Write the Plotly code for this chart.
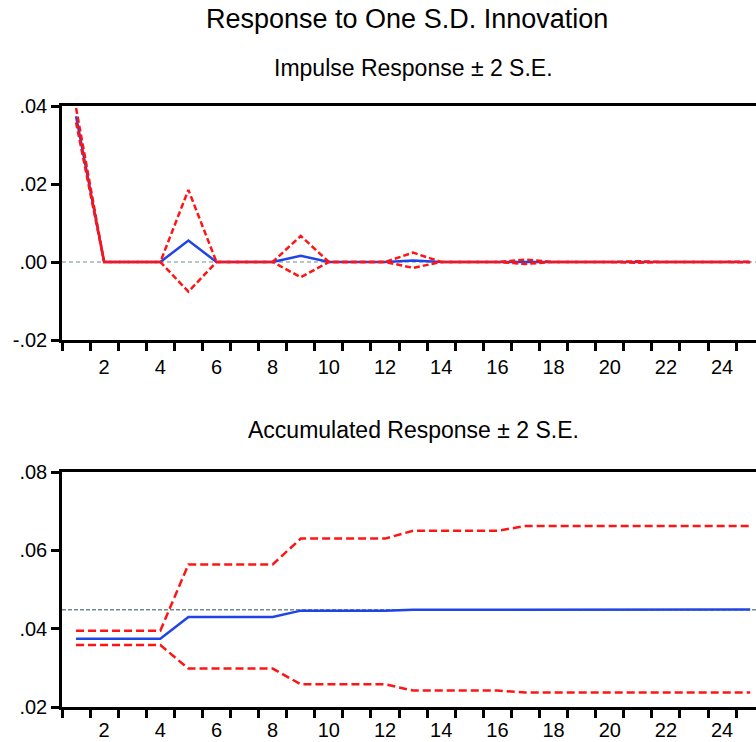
import plotly.graph_objects as go

# ---------------- data ----------------
periods = list(range(1, 26))

imp_resp = [0.0374, 0, 0, 0, 0.0055, 0, 0, 0, 0.0016, 0, 0, 0, 0.0004, 0, 0, 0,
            0.0001, 0, 0, 0, 0.00003, 0, 0, 0, 0.00001]
imp_upper = [0.0395, 0, 0, 0, 0.0185, 0, 0, 0, 0.0067, 0, 0, 0, 0.0024, 0, 0, 0,
             0.0006, 0, 0, 0, 0.0002, 0, 0, 0, 0.00005]
imp_lower = [0.0358, 0, 0, 0, -0.0076, 0, 0, 0, -0.0039, 0, 0, 0, -0.0015, 0, 0, 0,
             -0.0005, 0, 0, 0, -0.0002, 0, 0, 0, -0.00005]

acc_resp = [0.0374, 0.0374, 0.0374, 0.0374, 0.0430, 0.0430, 0.0430, 0.0430,
            0.0446, 0.0446, 0.0446, 0.0446, 0.0448, 0.0448, 0.0448, 0.0448,
            0.0449, 0.0449, 0.0449, 0.0449, 0.0449, 0.0449, 0.0449, 0.0449, 0.0449]
acc_upper = [0.0395, 0.0395, 0.0395, 0.0395, 0.0564, 0.0564, 0.0564, 0.0564,
             0.0630, 0.0630, 0.0630, 0.0630, 0.0650, 0.0650, 0.0650, 0.0650,
             0.0662, 0.0662, 0.0662, 0.0662, 0.0662, 0.0662, 0.0662, 0.0662, 0.0662]
acc_lower = [0.0358, 0.0358, 0.0358, 0.0358, 0.0298, 0.0298, 0.0298, 0.0298,
             0.0258, 0.0258, 0.0258, 0.0258, 0.0242, 0.0242, 0.0242, 0.0242,
             0.0237, 0.0237, 0.0237, 0.0237, 0.0237, 0.0237, 0.0237, 0.0237, 0.0237]

ref_top = 0.0
ref_bottom = 0.0448

x_label_vals = [2, 4, 6, 8, 10, 12, 14, 16, 18, 20, 22, 24]
x_tick_marks = [0.5 + i for i in range(25)]
top_y_vals = [0.04, 0.02, 0.0, -0.02]
top_y_text = [".04", ".02", ".00", "-.02"]
bot_y_vals = [0.08, 0.06, 0.04, 0.02]
bot_y_text = [".08", ".06", ".04", ".02"]

main_title = "Response to One S.D. Innovation"
top_title = "Impulse Response \u00b1 2 S.E."
bot_title = "Accumulated Response \u00b1 2 S.E."

# ---------------- style ----------------
W, H = 756, 742
L = 62
FONT = "Liberation Sans, Arial, sans-serif"
BLUE = "#2045e6"
RED = "#ff1414"
GREY = "#6e8c8c"

def py(p):
    return 1 - p / H

fig = go.Figure()

# top panel
fig.add_trace(go.Scatter(x=[0.5, 25.5], y=[ref_top, ref_top], mode="lines",
                         line=dict(color=GREY, width=1, dash="4px,3px"),
                         xaxis="x", yaxis="y", hoverinfo="skip"))
fig.add_trace(go.Scatter(x=periods, y=imp_resp, mode="lines",
                         line=dict(color=BLUE, width=2.5), xaxis="x", yaxis="y"))
fig.add_trace(go.Scatter(x=periods, y=imp_upper, mode="lines",
                         line=dict(color=RED, width=2.5, dash="6px,3px"), xaxis="x", yaxis="y"))
fig.add_trace(go.Scatter(x=periods, y=imp_lower, mode="lines",
                         line=dict(color=RED, width=2.5, dash="6px,3px"), xaxis="x", yaxis="y"))

# bottom panel
fig.add_trace(go.Scatter(x=[0.5, 25.5], y=[ref_bottom, ref_bottom], mode="lines",
                         line=dict(color=GREY, width=1.5, dash="4px,2px"),
                         xaxis="x2", yaxis="y2", hoverinfo="skip"))
fig.add_trace(go.Scatter(x=periods, y=acc_resp, mode="lines",
                         line=dict(color=BLUE, width=2.5), xaxis="x2", yaxis="y2"))
fig.add_trace(go.Scatter(x=periods, y=acc_upper, mode="lines",
                         line=dict(color=RED, width=2.5, dash="8px,4px"), xaxis="x2", yaxis="y2"))
fig.add_trace(go.Scatter(x=periods, y=acc_lower, mode="lines",
                         line=dict(color=RED, width=2.5, dash="8px,4px"), xaxis="x2", yaxis="y2"))

xr = [0.5, 0.5 + (W - L) / 28.09]

def xaxis(anchor, lab_len):
    return dict(range=xr, domain=[0, 1], anchor=anchor, showgrid=False, zeroline=False,
                showline=True, linecolor="black", linewidth=2.5, mirror=True,
                tickmode="array", tickvals=x_label_vals, ticks="outside", ticklen=lab_len,
                tickcolor="rgba(0,0,0,0)", tickfont=dict(family=FONT, size=20, color="black"),
                minor=dict(tickmode="array", tickvals=x_tick_marks, ticks="outside",
                           ticklen=8, tickwidth=2.5, tickcolor="black", showgrid=False),
                automargin=False, fixedrange=True)

def yaxis(anchor, dom, rng, vals, text):
    return dict(range=rng, domain=dom, anchor=anchor, showgrid=False, zeroline=False,
                showline=True, linecolor="black", linewidth=2.5, mirror=False,
                tickmode="array", tickvals=vals, ticktext=text, ticks="outside",
                ticklen=8, tickwidth=2.5, tickcolor="black",
                tickfont=dict(family=FONT, size=20, color="black"),
                automargin=False, fixedrange=True)

fig.update_layout(
    width=W, height=H,
    margin=dict(l=L, r=0, t=0, b=0),
    paper_bgcolor="white", plot_bgcolor="white",
    showlegend=False,
    xaxis=xaxis("y", 7),
    yaxis=yaxis("x", [py(340), py(106)], [-0.02, 0.04], top_y_vals, top_y_text),
    xaxis2=xaxis("y2", 3),
    yaxis2=yaxis("x2", [py(707), py(472)], [0.02, 0.08], bot_y_vals, bot_y_text),
)

cx = (413 - L) / (W - L)
fig.add_annotation(text=main_title, xref="paper", yref="paper", x=(407 - L) / (W - L), y=py(19),
                   showarrow=False, xanchor="center", yanchor="middle",
                   font=dict(family=FONT, size=27, color="black"))
fig.add_annotation(text=top_title, xref="paper", yref="paper", x=cx, y=py(68),
                   showarrow=False, xanchor="center", yanchor="middle",
                   font=dict(family=FONT, size=23, color="black"))
fig.add_annotation(text=bot_title, xref="paper", yref="paper", x=cx, y=py(430),
                   showarrow=False, xanchor="center", yanchor="middle",
                   font=dict(family=FONT, size=23, color="black"))

fig.write_html("out.html")
